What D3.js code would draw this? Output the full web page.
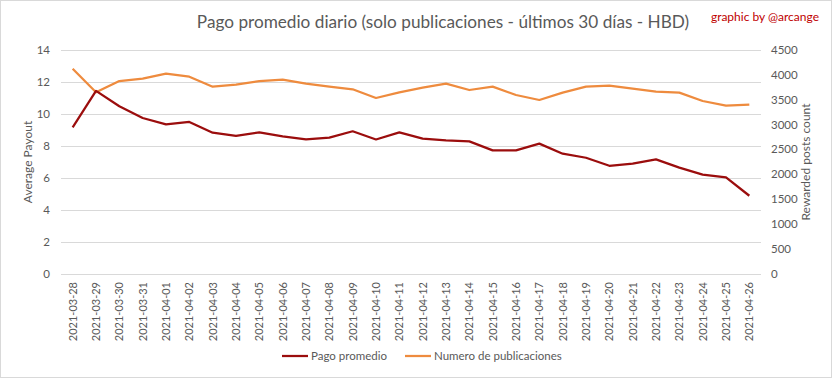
<!DOCTYPE html>
<html><head><meta charset="utf-8">
<script src="https://cdn.jsdelivr.net/npm/d3@7"></script>
<style>
html,body{margin:0;padding:0;background:#fff;}
svg text{font-family:Lato,"Open Sans",sans-serif;}
</style></head>
<body><svg id="c" width="833" height="379"></svg>
<script>
const dates = ["2021-03-28","2021-03-29","2021-03-30","2021-03-31","2021-04-01","2021-04-02","2021-04-03","2021-04-04","2021-04-05","2021-04-06","2021-04-07","2021-04-08","2021-04-09","2021-04-10","2021-04-11","2021-04-12","2021-04-13","2021-04-14","2021-04-15","2021-04-16","2021-04-17","2021-04-18","2021-04-19","2021-04-20","2021-04-21","2021-04-22","2021-04-23","2021-04-24","2021-04-25","2021-04-26"];
const pagoPromedio = [9.14,11.42,10.46,9.73,9.33,9.48,8.81,8.62,8.83,8.58,8.39,8.5,8.9,8.39,8.83,8.44,8.33,8.27,7.71,7.71,8.13,7.5,7.25,6.75,6.88,7.15,6.63,6.2,6.02,4.88];
const numeroPublicaciones = [4115,3642,3868,3915,4015,3955,3755,3795,3868,3895,3815,3755,3702,3528,3640,3735,3815,3688,3755,3588,3488,3635,3755,3775,3715,3655,3635,3468,3375,3395];
const leftTicks = [0,2,4,6,8,10,12,14];
const rightTicks = [0,500,1000,1500,2000,2500,3000,3500,4000,4500];
const seriesNames = ["Pago promedio","Numero de publicaciones"];

(function(){
const svg = d3.select("#c");
const colRed = "#9B0D0D", colOrange = "#EE8B3E", txt = "#595959", grid = "#D9D9D9";
const pL = 61, pR = 761, pT = 49.5, pB = 274;

svg.append("rect").attr("x",0.5).attr("y",0.5).attr("width",831).attr("height",377)
  .attr("fill","#fff").attr("stroke",grid);

const x = d3.scaleBand().domain(dates).range([pL,pR]);
const yL = d3.scaleLinear().domain([0,14]).range([pB,pT]);
const yR = d3.scaleLinear().domain([0,4500]).range([pB,pT]);

svg.append("g").selectAll("line").data(leftTicks).join("line")
  .attr("x1",pL).attr("x2",pR)
  .attr("y1",d=>Math.round(yL(d))+0.5).attr("y2",d=>Math.round(yL(d))+0.5)
  .attr("stroke",grid).attr("stroke-width",1);

const gL = svg.append("g").attr("transform",`translate(${pL-11},0)`)
  .call(d3.axisLeft(yL).tickValues(leftTicks).tickSize(0).tickPadding(0));
gL.select(".domain").remove();
gL.selectAll("text").attr("fill",txt).style("font-size","11.5px");

const gR = svg.append("g").attr("transform",`translate(${pR+10},0)`)
  .call(d3.axisRight(yR).tickValues(rightTicks).tickFormat(d3.format("d")).tickSize(0).tickPadding(0));
gR.select(".domain").remove();
gR.selectAll("text").attr("fill",txt).style("font-size","11.5px");

const gX = svg.append("g").attr("transform",`translate(0,${pB})`)
  .call(d3.axisBottom(x).tickSize(0).tickPadding(0));
gX.select(".domain").remove();
gX.selectAll("text").attr("fill",txt).style("font-size","11px")
  .attr("text-anchor","end").attr("dy","0.35em")
  .attr("transform","translate(0,8) rotate(-90)")
  .attr("x",0).attr("y",0);

const lineL = d3.line().x((d,i)=>x(dates[i])+x.bandwidth()/2).y(d=>yL(d));
const lineR = d3.line().x((d,i)=>x(dates[i])+x.bandwidth()/2).y(d=>yR(d));
svg.append("path").datum(numeroPublicaciones).attr("d",lineR)
  .attr("fill","none").attr("stroke",colOrange).attr("stroke-width",2.25).attr("stroke-linejoin","round");
svg.append("path").datum(pagoPromedio).attr("d",lineL)
  .attr("fill","none").attr("stroke",colRed).attr("stroke-width",2.25).attr("stroke-linejoin","round");

svg.append("text").attr("x",443).attr("y",28).attr("text-anchor","middle")
  .attr("fill",txt).style("font-size","17.2px").text("Pago promedio diario (solo publicaciones - últimos 30 días - HBD)");
svg.append("text").attr("x",819).attr("y",21).attr("text-anchor","end")
  .attr("fill","#C00000").style("font-size","12px").text("graphic by @arcange");

svg.append("text").attr("transform","translate(32,162) rotate(-90)").attr("text-anchor","middle")
  .attr("fill",txt).style("font-size","12px").text("Average Payout");
svg.append("text").attr("transform","translate(810,162) rotate(-90)").attr("text-anchor","middle")
  .attr("fill",txt).style("font-size","12px").text("Rewarded posts count");

const leg = [{n:seriesNames[0],c:colRed,x:282},{n:seriesNames[1],c:colOrange,x:405}];
const lg = svg.append("g").selectAll("g").data(leg).join("g");
lg.append("line").attr("x1",d=>d.x).attr("x2",d=>d.x+26).attr("y1",356).attr("y2",356)
  .attr("stroke",d=>d.c).attr("stroke-width",2.25);
lg.append("text").attr("x",d=>d.x+29).attr("y",360).attr("fill",txt).style("font-size","11.5px").text(d=>d.n);
})();
</script></body></html>
